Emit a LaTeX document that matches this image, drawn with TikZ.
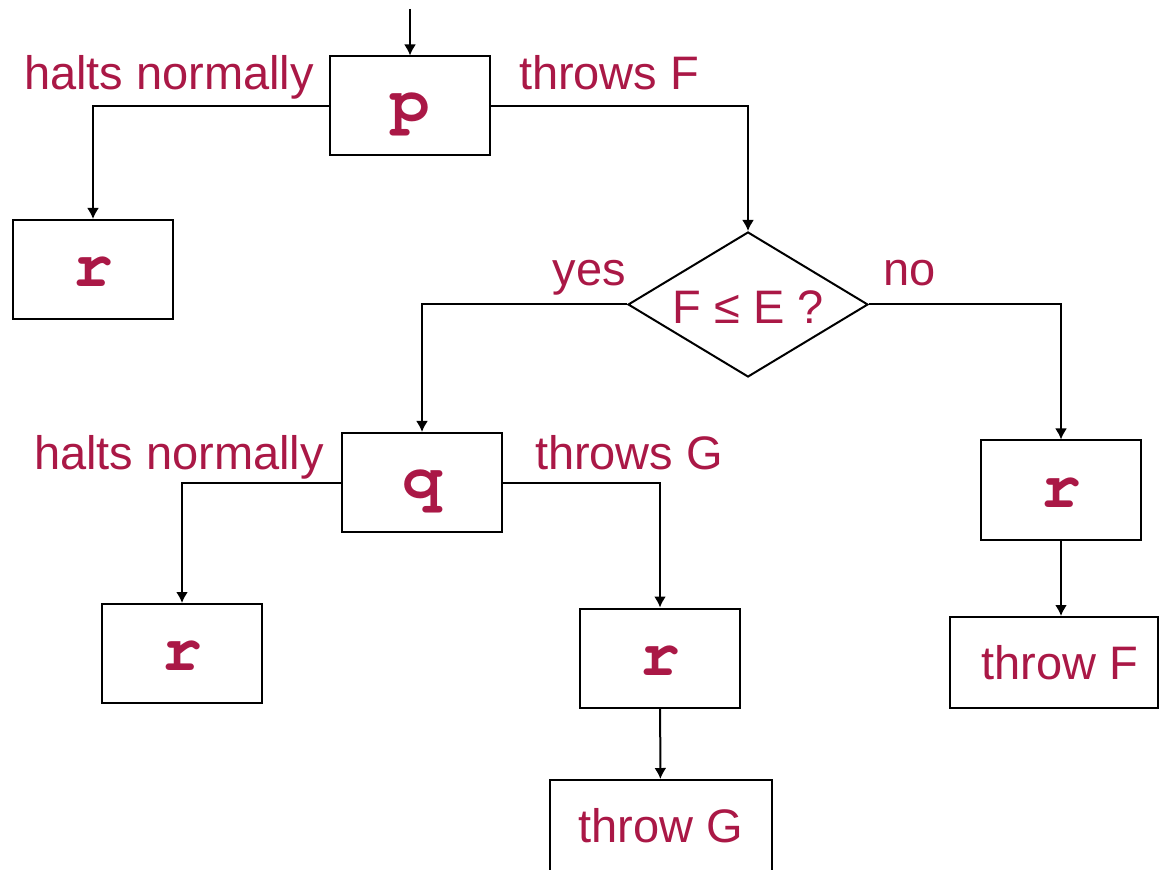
\documentclass[tikz,border=0pt]{standalone}
\usepackage[T1]{fontenc}
\usepackage{fontspec}
\setmainfont{Liberation Sans}
\usetikzlibrary{shapes.geometric,arrows.meta}
\definecolor{crimson}{RGB}{170,24,70}
\newcommand{\codefont}{\fontencoding{T1}\fontfamily{pcr}\fontseries{b}\fontsize{33}{36}\selectfont}
\begin{document}
\begin{tikzpicture}[x=0.5pt,y=-0.5pt,
    line width=1pt,
    every node/.style={text=crimson},
    box/.style={draw=black,rectangle,inner sep=0pt,minimum width=80pt,minimum height=49.5pt},
    code/.style={box,font=\codefont,text height=17pt,text depth=0pt},
    plain/.style={box,font=\fontsize{23.5}{28}\selectfont},
    decide/.style={draw=black,diamond,inner sep=0pt,minimum width=120pt,minimum height=72.5pt},
    lbl/.style={inner sep=0pt,font=\fontsize{23.5}{28}\selectfont},
    arr/.style={-{Latex[length=5.5pt,width=6pt]}}]
  \useasboundingbox (0,0) rectangle (1159,870);
  % boxes
  \node[code] (p) at (410,106) {p};
  \node[code] (rA) at (93,269.5) {r};
  \node[decide] (test) at (748,304.5) {};
  \node[lbl] (testtxt) at (748,307) {F ≤ E ?};
  \node[code] (q) at (422,482.5) {q};
  \node[code] (rB) at (1061,490) {r};
  \node[code] (rC) at (182,653.5) {r};
  \node[code] (rD) at (660,658) {r};
  \node[plain,minimum width=104pt,minimum height=45.5pt] (throwF) at (1054,662.5) {\hspace*{6pt}throw F};
  \node[plain,minimum width=111pt,minimum height=45.5pt] (throwG) at (660.5,825.5) {throw G};
  % labels
  \node[lbl,anchor=base east] (haltsP) at (315,90) {halts normally};
  \node[lbl,anchor=base west] (throwsP) at (518,90) {throws F};
  \node[lbl,anchor=base east] (yes) at (627,286) {yes};
  \node[lbl,anchor=base west] (no) at (882,286) {no};
  \node[lbl,anchor=base east] (haltsQ) at (325,470) {halts normally};
  \node[lbl,anchor=base west] (throwsQ) at (534,470) {throws G};
  % connectors
  \coordinate (start) at (410,9);
  \draw[arr] (start) -- (p);
  \draw[arr] (p.west) -| (rA.north);
  \draw[arr] (p.east) -| (test.north);
  \draw[arr] (test.west) -| (q.north);
  \draw[arr] (test.east) -| (rB.north);
  \draw[arr] (q.west) -| (rC.north);
  \draw[arr] (q.east) -| (rD.north);
  \draw[arr] (rD) -- (throwG);
  \draw[arr] (rB.south) -- (rB.south |- throwF.north);
\end{tikzpicture}
\end{document}
